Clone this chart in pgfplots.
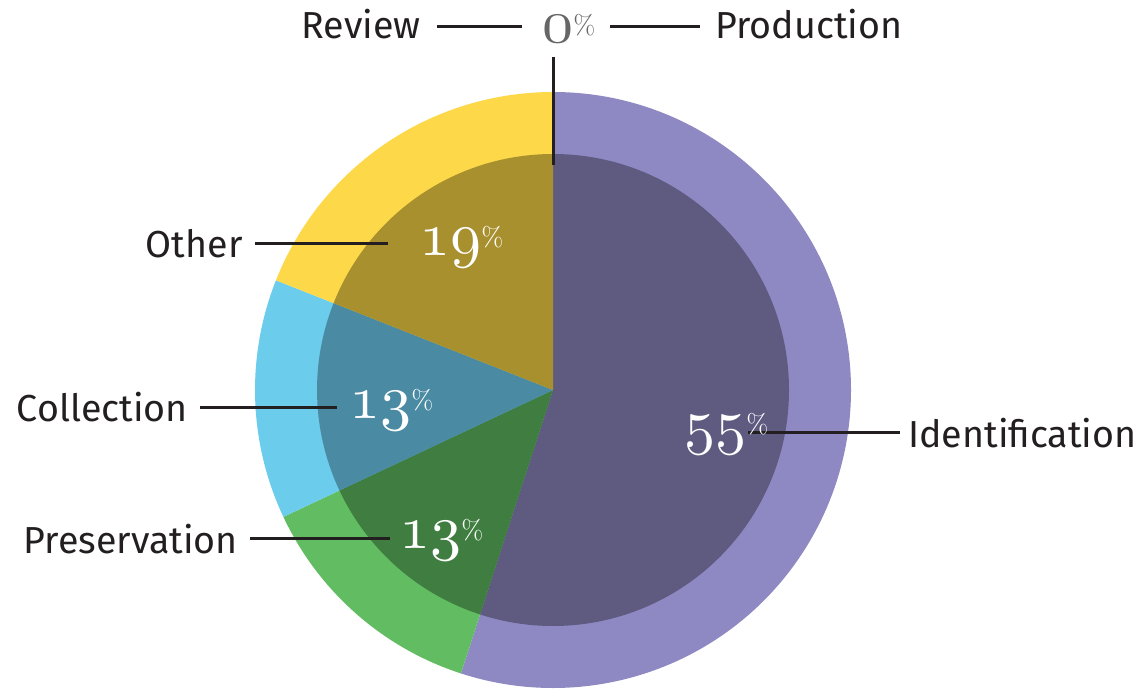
\documentclass[border=0pt]{standalone}
\usepackage{graphicx}
\usepackage{fontspec}
\setsansfont{Fira Sans}
\usepackage{pgfplots}
\pgfplotsset{compat=1.18}

\definecolor{purO}{HTML}{8E89C2}\definecolor{purI}{HTML}{5F5A80}
\definecolor{grnO}{HTML}{62BD62}\definecolor{grnI}{HTML}{3F7E40}
\definecolor{bluO}{HTML}{6BCDEB}\definecolor{bluI}{HTML}{4A8AA2}
\definecolor{ylwO}{HTML}{FDD94A}\definecolor{ylwI}{HTML}{A8902F}
\definecolor{lin}{HTML}{231F20}
\definecolor{zerc}{HTML}{666666}

% #1 cumulative percent before slice, #2 percent, #3 colour, #4 radius
\newcommand{\slice}[4]{%
  \fill[#3] (axis cs:553,302) -- ++({90-3.6*(#1)}:#4)
    arc[start angle={90-3.6*(#1)}, end angle={90-3.6*((#1)+(#2))}, radius=#4] -- cycle;}
\newcommand{\lab}[1]{{\sffamily\fontsize{18.8}{21}\selectfont #1}}
\newcommand{\pct}[1]{{\scalebox{3.1}{$\mathnormal{#1}$}\raisebox{1.0ex}{\fontsize{13.5}{14}\selectfont\%}}}

\begin{document}
\begin{tikzpicture}
\begin{axis}[x=0.5pt,y=0.5pt,xmin=0,xmax=1144,ymin=0,ymax=692,
  hide axis,clip=false]
\draw[draw=none] (axis cs:0,0) rectangle (axis cs:1144,692);
% Identification 55, Preservation 13, Collection 13, Other 19, Review 0, Production 0
\slice{0}{55}{purO}{149pt}
\slice{55}{13}{grnO}{149pt}
\slice{68}{13}{bluO}{149pt}
\slice{81}{19}{ylwO}{149pt}
\slice{0}{55}{purI}{118pt}
\slice{55}{13}{grnI}{118pt}
\slice{68}{13}{bluI}{118pt}
\slice{81}{19}{ylwI}{118pt}
% leader lines
\draw[lin,line width=1.5pt] (axis cs:553,635) -- (axis cs:553,527);
\draw[lin,line width=1.5pt] (axis cs:437,665) -- (axis cs:522,665);
\draw[lin,line width=1.5pt] (axis cs:610,665) -- (axis cs:700,665);
\draw[lin,line width=1.5pt] (axis cs:255,449) -- (axis cs:388,449);
\draw[lin,line width=1.5pt] (axis cs:200,285) -- (axis cs:337,285);
\draw[lin,line width=1.5pt] (axis cs:250,154) -- (axis cs:390,154);
\draw[lin,line width=1.5pt] (axis cs:748,260) -- (axis cs:900,260);
% category labels
\node[anchor=base east,inner sep=0pt,text=lin] at (axis cs:421,653) {\lab{Review}};
\node[anchor=base west,inner sep=0pt,text=lin] at (axis cs:715,653) {\lab{Production}};
\node[anchor=base east,inner sep=0pt,text=lin] at (axis cs:243,435) {\lab{Other}};
\node[anchor=base east,inner sep=0pt,text=lin] at (axis cs:188,271) {\lab{Collection}};
\node[anchor=base east,inner sep=0pt,text=lin] at (axis cs:238,139) {\lab{Preservation}};
\node[anchor=base west,inner sep=0pt,text=lin] at (axis cs:908,245) {\lab{Identification}};
% percentages
\node[anchor=base west,inner sep=0pt,text=zerc] at (axis cs:542,649) {\pct{0}};
\node[anchor=base west,inner sep=0pt,text=white] at (axis cs:419,437) {\pct{19}};
\node[anchor=base west,inner sep=0pt,text=white] at (axis cs:349,274) {\pct{13}};
\node[anchor=base west,inner sep=0pt,text=white] at (axis cs:399,144) {\pct{13}};
\node[anchor=base west,inner sep=0pt,text=white] at (axis cs:684,250) {\pct{55}};
\end{axis}
\end{tikzpicture}
\end{document}
